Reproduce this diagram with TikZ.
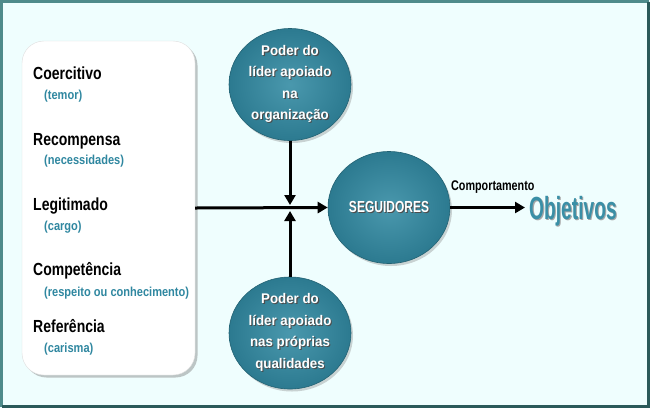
\documentclass[tikz,border=0pt]{standalone}
\usepackage{fontspec}
\setmainfont{Liberation Sans}
\newfontfamily\itemfont[FakeStretch=0.80]{Liberation Sans}
\newfontfamily\notefont[FakeStretch=0.85]{Liberation Sans}
\newfontfamily\ballfont[FakeStretch=0.95]{Liberation Sans}
\newfontfamily\segfont[FakeStretch=0.75]{Liberation Sans}
\newfontfamily\compfont[FakeStretch=0.77]{Liberation Sans}
\newfontfamily\objfont[FakeStretch=0.60]{Liberation Sans}
\usetikzlibrary{shapes.geometric,shadows,arrows.meta}

\definecolor{bgcyan}{HTML}{EFFEFE}
\definecolor{frameteal}{HTML}{4F8B8B}
\definecolor{framedark}{HTML}{2B5A5A}
\definecolor{ballteal}{HTML}{3A8FA6}
\definecolor{balledge}{HTML}{2C7A90}
\definecolor{noteteal}{HTML}{2F87A0}

% text with a small shadow below right
\newcommand{\shtext}[2]{\makebox[0pt][l]{\kern1.1pt\raisebox{-1.1pt}{\color{#1}#2}}#2}

\tikzset{
  panel/.style={rectangle, rounded corners=22pt, fill=white, draw=gray!25,
    minimum width=173pt, minimum height=334pt,
    drop shadow={shadow xshift=2.5pt, shadow yshift=-2.5pt, opacity=0.45}},
  item/.style={anchor=base west, inner sep=0pt,
    font=\itemfont\bfseries\fontsize{17.5}{20}\selectfont},
  note/.style={anchor=base west, inner sep=0pt, text=noteteal,
    font=\notefont\bfseries\fontsize{13}{15}\selectfont},
  ball/.style={ellipse, minimum width=122pt, minimum height=112pt, inner sep=0pt,
    inner color=ballteal!92!white, outer color=balledge, draw=balledge!80!black, line width=0.6pt,
    drop shadow={shadow xshift=2pt, shadow yshift=-2.5pt, opacity=0.35},
    text=white, align=center},
  arr/.style={line width=3pt, -{Triangle[length=10pt,width=11pt]}}
}

\begin{document}
\begin{tikzpicture}[x=1pt,y=-1pt]
  \useasboundingbox (0,0) rectangle (650,408);
  % fundo e moldura
  \fill[bgcyan] (0,0) rectangle (650,408);
  \draw[frameteal, line width=3pt] (1.5,406.5) -- (1.5,1.5) -- (648.5,1.5);
  \draw[framedark, line width=3pt] (648.5,1.5) -- (648.5,406.5) -- (1.5,406.5);

  % tipos de poder
  \node[panel] (box) at (108.5,208) {};
  \node[item] (coer) at (33,79) {Coercitivo};
  \node[note] (coern) at (44,99) {(temor)};
  \node[item] (recom) at (33,145) {Recompensa};
  \node[note] (recomn) at (44,164) {(necessidades)};
  \node[item] (legit) at (33,210) {Legitimado};
  \node[note] (legitn) at (44,230) {(cargo)};
  \node[item] (compe) at (33,275) {Competência};
  \node[note] (compen) at (44,296) {(respeito ou conhecimento)};
  \node[item] (refer) at (33,332) {Referência};
  \node[note] (refern) at (44,352) {(carisma)};

  % fontes de poder e seguidores
  \node[ball, font=\ballfont\bfseries\fontsize{14}{21.5}\selectfont] (org) at (290,84.5)
    {\shtext{black!70}{Poder do}\\\shtext{black!70}{líder apoiado}\\\shtext{black!70}{na}\\\shtext{black!70}{organização}};
  \node[ball, font=\ballfont\bfseries\fontsize{14}{21.5}\selectfont] (qual) at (290,333)
    {\shtext{black!70}{Poder do}\\\shtext{black!70}{líder apoiado}\\\shtext{black!70}{nas próprias}\\\shtext{black!70}{qualidades}};
  \node[ball, font=\segfont\bfseries\fontsize{16}{18}\selectfont] (seg) at (389,207.5)
    {\shtext{black!70}{SEGUIDORES}};
  \node[anchor=base west, inner sep=0pt, font=\objfont\bfseries\fontsize{32}{34}\selectfont,
    text=ballteal] (obj) at (529,219) {\shtext{gray!70}{Objetivos}};
  \node[anchor=base west, inner sep=0pt, font=\compfont\bfseries\fontsize{14}{16}\selectfont]
    (comp) at (451,190) {Comportamento};

  \coordinate (junc) at (290,208);
  \draw[arr] (box.east) -- (seg.west);
  \draw[arr, shorten >=3pt] (org.south) -- (junc);
  \draw[arr, shorten >=3pt] (qual.north) -- (junc);
  \draw[arr, shorten >=4pt] (seg.east) -- (seg.east -| obj.west);
\end{tikzpicture}
\end{document}
